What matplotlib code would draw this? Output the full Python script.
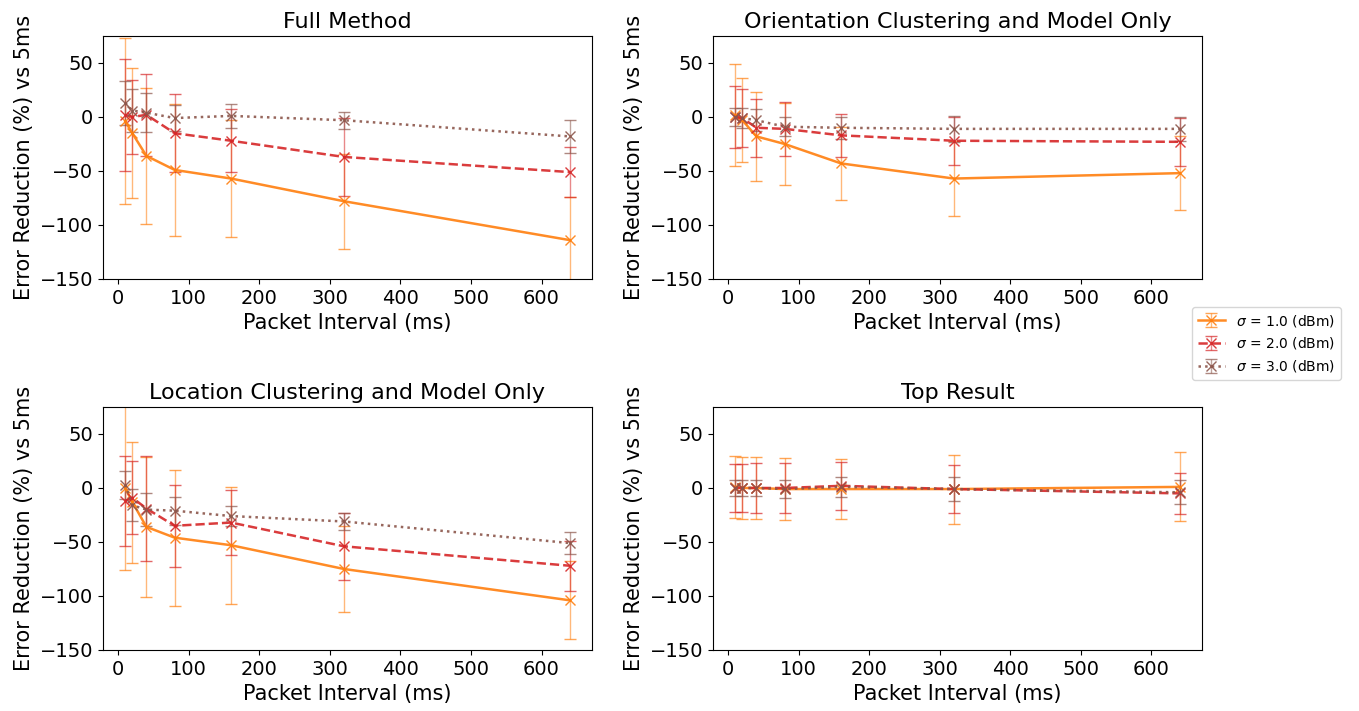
import matplotlib
matplotlib.use("Agg")
import matplotlib.pyplot as plt

# packet intervals (ms)
intervals = [10, 20, 40, 80, 160, 320, 640]
sigmas = ["1.0", "2.0", "3.0"]

titles = ["Full Method", "Orientation Clustering and Model Only",
          "Location Clustering and Model Only", "Top Result"]

# mean error reduction (%) per sigma, per panel
full_mean = [[-4, -15, -36, -49, -57, -78, -114],
             [2, 0, 2, -15, -22, -37, -51],
             [13, 6, 4, -1, 1, -3, -18]]
full_err = [[77, 60, 63, 61, 54, 44, 40],
            [52, 34, 38, 36, 29, 36, 23],
            [20, 20, 18, 12, 11, 8, 15]]

orient_mean = [[2, -3, -18, -25, -43, -57, -52],
               [0, -1, -10, -11, -17, -22, -23],
               [0, -1, -3, -9, -10, -11, -11]]
orient_err = [[47, 39, 41, 38, 34, 35, 34],
              [29, 27, 27, 25, 20, 22, 22],
              [8, 9, 10, 9, 10, 12, 11]]

loc_mean = [[0, -13, -36, -46, -53, -75, -104],
            [-12, -9, -19, -35, -32, -54, -72],
            [3, -16, -20, -21, -26, -31, -51]]
loc_err = [[76, 56, 65, 63, 54, 40, 36],
           [42, 34, 49, 38, 30, 31, 23],
           [13, 15, 15, 13, 9, 8, 10]]

top_mean = [[1, 0, 0, -1, -1, -1, 1],
            [0, 0, 0, 0, 2, -1, -5],
            [0, 0, 0, -1, 1, -1, -4]]
top_err = [[29, 29, 29, 29, 28, 32, 32],
           [22, 22, 23, 23, 22, 22, 19],
           [7, 7, 7, 8, 9, 11, 11]]

means = [full_mean, orient_mean, loc_mean, top_mean]
errs = [full_err, orient_err, loc_err, top_err]

colors = ["tab:orange", "tab:red", "tab:brown"]
styles = ["-", "--", ":"]

fig = plt.figure(figsize=(13.59, 7.11), dpi=100)
positions = [[0.0758, 0.6076, 0.3598, 0.3418],
             [0.5247, 0.6076, 0.3596, 0.3418],
             [0.0758, 0.0858, 0.3598, 0.3418],
             [0.5247, 0.0858, 0.3596, 0.3418]]

handles = []
for p in range(4):
    ax = fig.add_axes(positions[p])
    for s in range(3):
        h = ax.errorbar(intervals, means[p][s], yerr=errs[p][s],
                        color=colors[s], linestyle=styles[s], linewidth=1.8,
                        marker="x", markersize=7, capsize=4, elinewidth=1,
                        ecolor=colors[s], alpha=0.9,
                        label=r"$\sigma$ = " + sigmas[s] + " (dBm)")
        for bar in h[2]:
            bar.set_alpha(0.55)
        for cap in h[1]:
            cap.set_alpha(0.7)
        if p == 0:
            handles.append(h)
    ax.set_ylim(-150, 75)
    ax.set_yticks([-150, -100, -50, 0, 50])
    ax.set_title(titles[p], fontsize=16)
    ax.set_xlabel("Packet Interval (ms)", fontsize=15)
    ax.set_ylabel("Error Reduction (%) vs 5ms", fontsize=15)
    ax.tick_params(labelsize=14)

fig.legend(handles=handles, loc="upper left", bbox_to_anchor=(0.872, 0.578),
           fontsize=10)

fig.savefig("out.png", dpi=100)
